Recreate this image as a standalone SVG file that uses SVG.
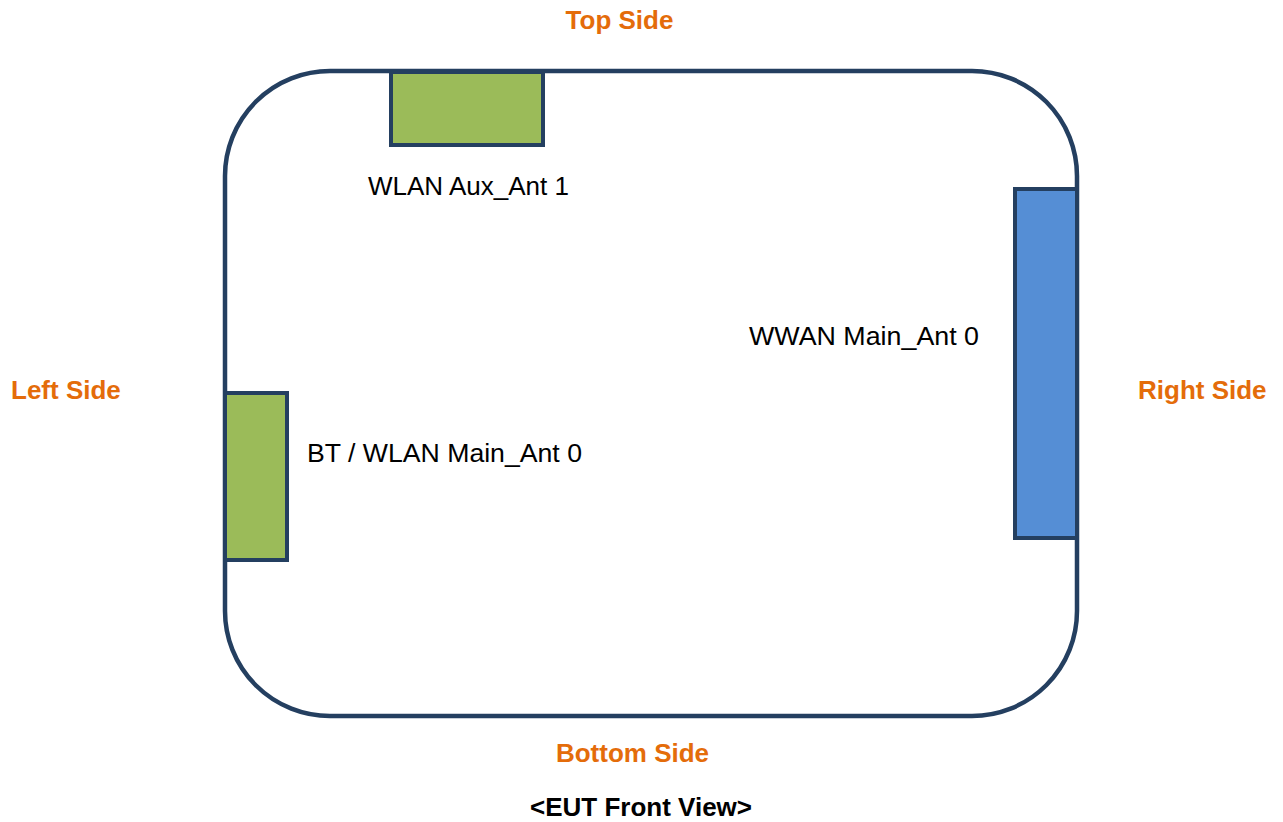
<svg xmlns="http://www.w3.org/2000/svg" width="1283" height="822" viewBox="0 0 1283 822">
<style>
.body{fill:#FFFFFF;stroke:#243F60;stroke-width:4.5}
.ant{stroke:#243F60;stroke-width:4}
.green{fill:#9BBB59}
.blue{fill:#558ED5}
.lbl{font-family:"Liberation Sans",Arial,sans-serif;font-size:26px;fill:#000000}
.side{font-family:"Liberation Sans",Arial,sans-serif;font-size:26px;font-weight:bold;fill:#E46C0A}
.title{font-family:"Liberation Sans",Arial,sans-serif;font-size:26px;font-weight:bold;fill:#000000}
</style>
<rect width="1283" height="822" fill="#FFFFFF"/>
<g id="eut-body">
<rect class="body" x="225" y="71" width="852" height="645" rx="105" ry="105"/>
</g>
<g id="connectors"></g>
<g id="wlan-aux-ant1">
<rect class="ant green" x="391" y="72" width="152" height="73"/>
<text class="lbl" x="368" y="195" textLength="201" lengthAdjust="spacingAndGlyphs">WLAN Aux_Ant 1</text>
</g>
<g id="wwan-main-ant0">
<rect class="ant blue" x="1015" y="189" width="62" height="349"/>
<text class="lbl" x="749" y="345" textLength="230" lengthAdjust="spacingAndGlyphs">WWAN Main_Ant 0</text>
</g>
<g id="bt-wlan-main-ant0">
<rect class="ant green" x="225" y="393" width="62" height="167"/>
<text class="lbl" x="307" y="462" textLength="275" lengthAdjust="spacingAndGlyphs">BT / WLAN Main_Ant 0</text>
</g>
<g id="side-labels">
<text class="side" x="619.5" y="29" text-anchor="middle">Top Side</text>
<text class="side" x="11" y="399">Left Side</text>
<text class="side" x="1138" y="399">Right Side</text>
<text class="side" x="632.5" y="762" text-anchor="middle">Bottom Side</text>
</g>
<g id="caption">
<text class="title" x="641" y="816" text-anchor="middle">&lt;EUT Front View&gt;</text>
</g>
</svg>
